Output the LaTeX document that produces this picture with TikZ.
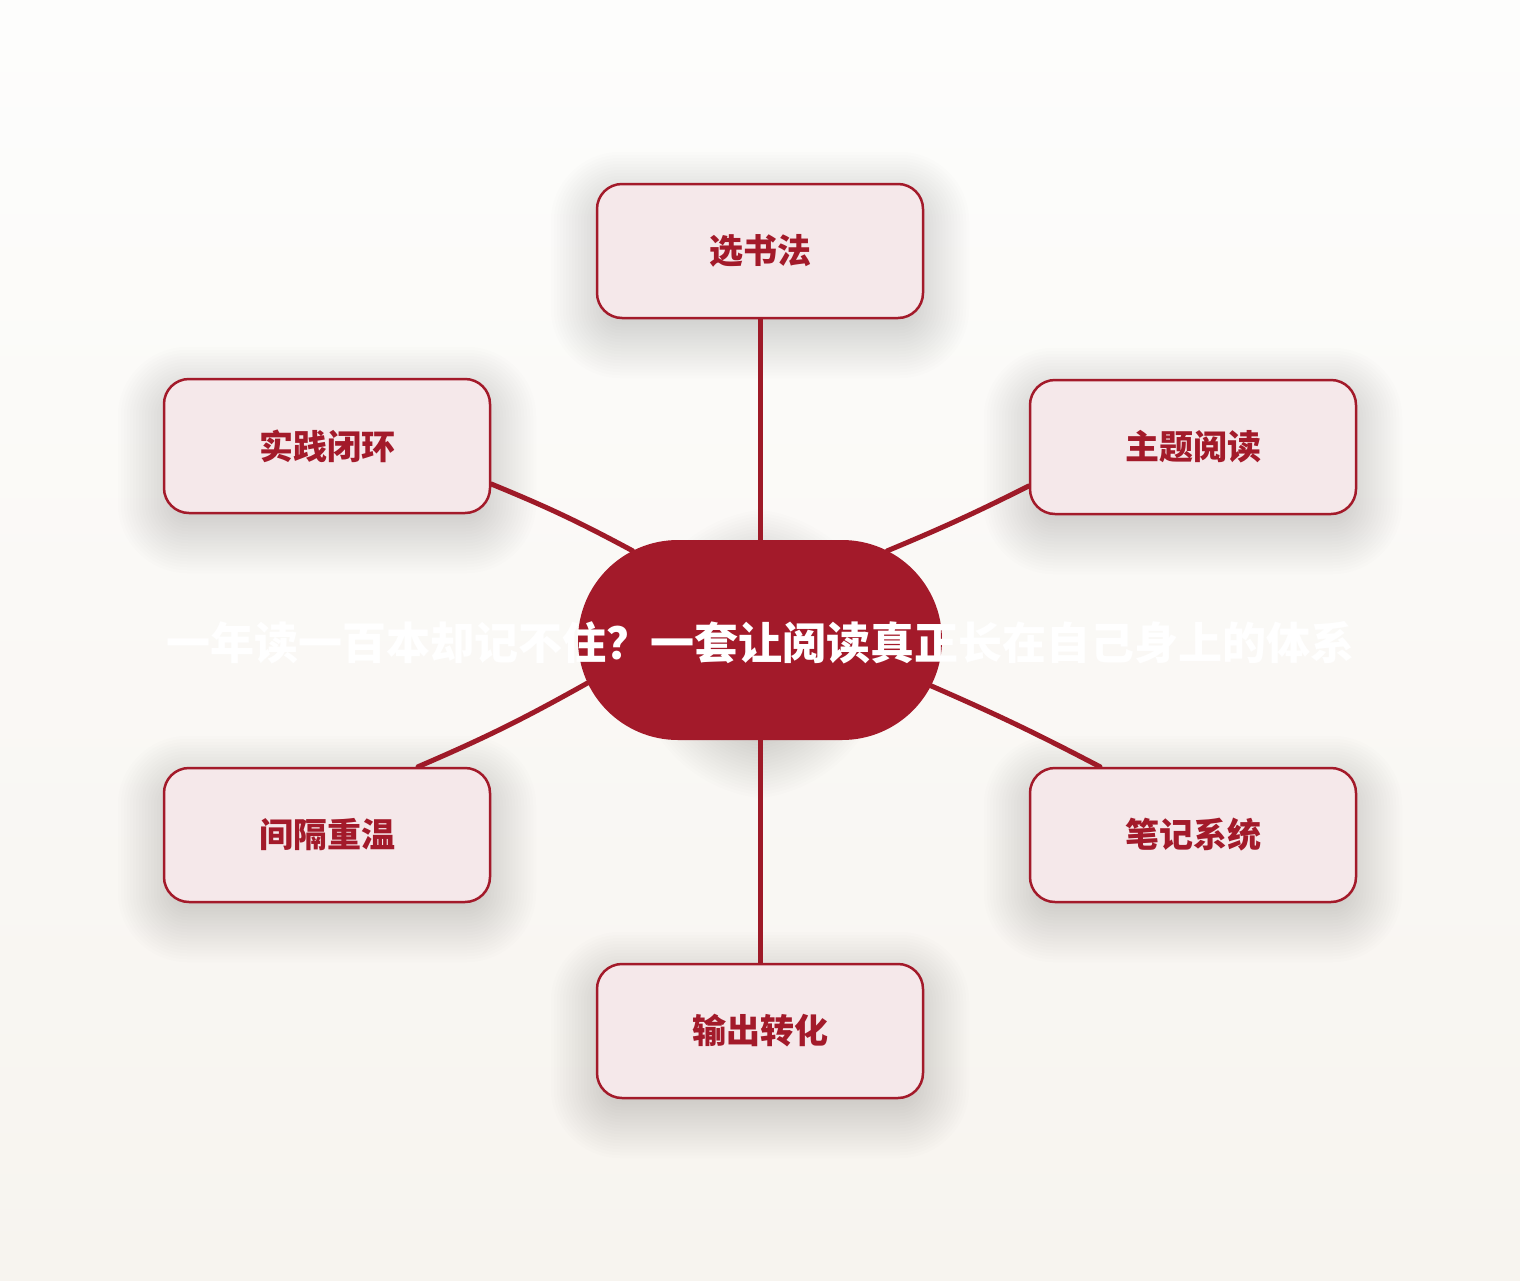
\documentclass[tikz,border=0pt]{standalone}
\usepackage{fontspec}
\newfontfamily\cjk{Noto Sans CJK SC}
\usetikzlibrary{shapes.misc}
\definecolor{dred}{HTML}{A31A2A}
\definecolor{lred}{HTML}{9E1A28}
\definecolor{pinkfill}{HTML}{F5E8EA}
\definecolor{bgtop}{HTML}{FDFDFC}
\definecolor{bgbot}{HTML}{F7F4EF}
\pgfdeclarelayer{bg}
\pgfdeclarelayer{shadowlayer}
\pgfdeclarelayer{edges}
\pgfsetlayers{bg,shadowlayer,edges,main}
\tikzset{
  centerbox/.style={rounded rectangle, fill=dred, minimum width=364pt, minimum height=200pt, inner sep=0pt},
  centertext/.style={text=white, font=\cjk\bfseries\fontsize{44pt}{48pt}\selectfont, inner sep=0pt},
  leafbox/.style={draw=dred, line width=2.5pt, fill=pinkfill, rounded corners=25pt,
    minimum width=326pt, minimum height=134pt, inner sep=0pt,
    text=dred, font=\cjk\bfseries\fontsize{34pt}{36pt}\selectfont},
  link/.style={draw=lred, line width=5pt, line cap=round},
  softshade/.style={fill=black, fill opacity=0.009}
}
\newcommand{\boxshadow}[2]{%
  \foreach \d in {-12,-9,...,45}{%
    \fill[softshade, rounded corners=#2+\d*1pt]
      ([xshift=-\d pt, yshift=\d pt-14pt]#1.north west) rectangle
      ([xshift=\d pt, yshift=-\d pt-14pt]#1.south east);
  }%
}
\begin{document}
\begin{tikzpicture}[x=1pt,y=-1pt]
\begin{pgfonlayer}{bg}
\shade[top color=bgtop, bottom color=bgbot] (0,0) rectangle (1520,1280);
\end{pgfonlayer}
\useasboundingbox (0,0) rectangle (1520,1280);
\node[centerbox] (c) at (760,640) {};
\node[centertext] (ct) at (760,643) {一年读一百本却记不住？一套让阅读真正长在自己身上的体系};
\node[leafbox] (n1) at (760,251) {选书法};
\node[leafbox] (n2) at (1193,447) {主题阅读};
\node[leafbox] (n3) at (1193,835) {笔记系统};
\node[leafbox] (n4) at (760,1031) {输出转化};
\node[leafbox] (n5) at (327,835) {间隔重温};
\node[leafbox] (n6) at (327,446) {实践闭环};
\begin{pgfonlayer}{shadowlayer}
\boxshadow{c}{99pt}
\boxshadow{n1}{25pt}
\boxshadow{n2}{25pt}
\boxshadow{n3}{25pt}
\boxshadow{n4}{25pt}
\boxshadow{n5}{25pt}
\boxshadow{n6}{25pt}
\end{pgfonlayer}
\begin{pgfonlayer}{edges}
\draw[link] (c.north) -- (n1.south);
\draw[link] (c.35) to[bend right=2] ([yshift=-39pt]n2.west);
\draw[link] (c.-15) to[bend left=2] ([xshift=-93pt]n3.north);
\draw[link] (c.south) -- (n4.north);
\draw[link] (c.194) to[bend left=3] ([xshift=91pt]n5.north);
\draw[link] (c.145) to[bend right=3] ([yshift=-38pt]n6.east);
\end{pgfonlayer}
\end{tikzpicture}
\end{document}
